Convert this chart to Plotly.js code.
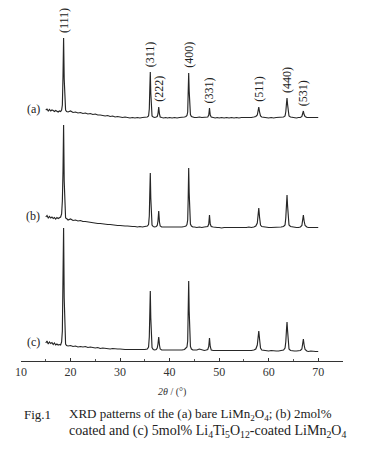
<!DOCTYPE html>
<html>
<head>
<meta charset="utf-8">
<script src="https://cdn.plot.ly/plotly-3.0.1.min.js"></script>
<style>html,body{margin:0;padding:0;background:#fff;}#chart{width:369px;height:463px;}</style>
</head>
<body>
<div id="chart"></div>
<script>
// 2θ positions (degrees)
const twoTheta = [
15.0,15.25,15.5,15.75,16.0,16.25,16.5,16.75,17.0,17.25,17.5,17.75,18.0,
18.2,18.35,18.48,18.6,18.72,18.85,19.0,19.2,
19.5,20,20.5,21,21.5,22,22.5,23,23.5,24,24.5,25,25.5,26,26.5,27,27.5,28,28.5,29,29.5,30,30.5,31,31.5,32,32.5,33,33.5,34,34.5,35,35.5,
35.75,35.9,36.0,36.1,36.2,36.3,36.45,
36.7,37.0,37.3,37.5,
37.65,37.8,37.95,38.1,
38.4,38.8,39.2,39.6,40,40.5,41,41.5,42,42.5,43,43.3,43.5,
43.65,43.75,43.85,43.95,44.05,44.2,44.4,
44.7,45,45.5,46,46.5,47,47.4,47.7,
47.9,48.05,48.2,48.4,
48.8,49.2,49.6,50,50.5,51,51.5,52,52.5,53,53.5,54,54.5,55,55.5,56,56.5,57,57.4,
57.7,57.85,58.0,58.15,58.35,58.6,
59,59.5,60,60.5,61,61.5,62,62.5,63,
63.3,63.45,63.6,63.7,63.8,63.95,64.1,64.4,
64.8,65.2,65.6,66,66.4,66.7,
66.85,67.0,67.15,67.35,
67.7,68,68.5,69,69.5,70
];

// (a) bare LiMn2O4 intensities (a.u.)
const intensityA = [
11,12,10,11.5,10,11,10.5,9.5,10.5,10,9,10,9.5,
11,16,45,83,42,17,11,9.5,
9,10,8.5,9,8,8.5,7.5,8,7,7.5,6.5,7,6,6,5.5,5,5.5,4.5,5,4,4.5,4,3.5,4,3.5,3,3.5,3,3.5,3,3.5,3.5,4,
5,12,32,49,28,10,5,
4,3.5,4,4.5,
7,14,7,4,
3.5,3,3.5,3,3.5,3,3.5,3,3.5,3.5,4,4.5,5.5,
9,24,48,30,13,6.5,4.5,
4,3.5,3.5,4,3.5,3.5,3.5,4,
6,13,6,4,
3.5,3,3.5,3,3.5,3,3.5,3,3.5,3,3.5,3,3.5,3.5,3,3.5,3.5,4,4.5,
6,10,14,9,5,4,
3.5,3.5,3,3.5,3,3.5,3.5,3.5,4,
5,9,18,23,17,8,5,4,
3.5,3.5,3,3.5,3.5,4.5,
6.5,10,6.5,4.5,
3.5,3.5,3,3.5,3,3.5
];

// (b) 2mol% coated
const intensityB = [
14,15.5,13,14.5,13,14,12.5,13.5,12,13.5,12.5,13,14,
17,30,60,106,50,20,13,12.5,
11,12,10.5,11,10,10.5,9.5,9.5,9,8.5,8.5,8,7.5,7.5,7,7,6.5,6.5,6,6,5.5,5.5,5,5,5,4.5,4.5,4.5,4,4.5,4,4.5,5,
6.5,15,38,58,33,12,6,
4.5,4,4.5,5.5,
10,20,9,5,
4,4,3.5,4,3.5,4,3.5,4,3.5,4,4.5,5,6.5,
11,32,63,38,15,7,5,
4,4,3.5,4,3.5,4,4,4.5,
7,16,7,4.5,
4,3.5,3.5,3.5,3,3.5,3.5,3,3.5,3.5,3,3.5,3.5,3.5,3.5,4,3.5,4,5,
8,15,23,14,6,4.5,
4,3.5,3.5,3.5,3.5,3.5,3.5,4,4.5,
6,13,28,36,26,11,6,4.5,
4,3.5,3.5,3.5,4,5.5,
10,16,10,5.5,
4,3.5,3.5,3.5,3.5,3.5
];

// (c) 5mol% Li4Ti5O12-coated
const intensityC = [
10,12,9,11,9.5,10.5,8.5,10,8,9,8,8.5,8,
11,22,60,125,55,18,9,7.5,
7,7.5,6.5,7,6,6.5,6,6.5,5.5,6,5.5,5,5.5,4.5,5,4.5,4.5,4,4.5,4,4,4,3.5,3.5,3.5,3.5,3,3.5,3,3,3,3.5,4,
6,16,40,62,35,12,5.5,
3.5,3,3.5,5,
9,16,8,4,
3,3,2.5,3,2.5,3,2.5,3,2.5,3,3.5,4.5,6,
12,36,72,42,16,6.5,4,
3,3,3,4,3,2.5,3,3.5,
6.5,15,6.5,3,
2.5,2.5,2,2.5,2,2.5,2,2.5,2,2.5,2,2,2.5,2,2.5,2,2.5,3,4,
8,15,22,14,5,3,
2.5,2,2,2.5,2,2,2,2.5,3,
5,11,24,31,23,9,4,2.5,
2,2,2,2,2.5,4,
8,14,8,3.5,
2,1.5,2,1.5,1.5,1.5
];

const sampleLabels = ['(a)', '(b)', '(c)'];
const peakHKL = ['(111)', '(311)', '(222)', '(400)', '(331)', '(511)', '(440)', '(531)'];
const peakPos = [18.6, 36.1, 37.8, 43.85, 48.05, 58.0, 63.7, 67.0];
const xTickVals = [10, 20, 30, 40, 50, 60, 70];
const xMinorVals = [15, 25, 35, 45, 55, 65, 75];

const series = [intensityA, intensityB, intensityC];
const stackOffset = [240, 130, 8];
const lineColor = '#262626';
const serif = "'Liberation Serif', serif";

series.forEach((s, i) => { if (s.length !== twoTheta.length) console.error('length mismatch', i, s.length, twoTheta.length); });

const traces = series.map((s, i) => ({
  type: 'scatter', mode: 'lines',
  x: twoTheta,
  y: s.map(v => v + stackOffset[i]),
  line: {color: lineColor, width: 1.15},
  hoverinfo: 'skip', showlegend: false
}));

const annotations = [];
// sample labels at the start of each pattern
series.forEach((s, i) => {
  annotations.push({
    x: twoTheta[0], y: s[0] + stackOffset[i], xref: 'x', yref: 'y',
    xanchor: 'right', yanchor: 'middle', xshift: -4, yshift: 1,
    text: sampleLabels[i], showarrow: false,
    font: {family: serif, size: 12, color: '#222'}
  });
});
// hkl labels above the peaks of pattern (a)
peakHKL.forEach((lab, k) => {
  let best = -Infinity;
  twoTheta.forEach((t, j) => { if (Math.abs(t - peakPos[k]) <= 0.3 && intensityA[j] > best) best = intensityA[j]; });
  annotations.push({
    x: peakPos[k], y: best + stackOffset[0], xref: 'x', yref: 'y',
    xanchor: 'center', yanchor: 'bottom', yshift: 3,
    text: lab, textangle: -90, showarrow: false,
    font: {family: serif, size: 12, color: '#222'}
  });
});
// axis title
annotations.push({
  x: 0.469, y: 0, xref: 'paper', yref: 'paper', xanchor: 'center', yanchor: 'middle', yshift: -31,
  text: '<i>2θ</i> / (°)', showarrow: false, font: {family: serif, size: 10, color: '#333'}
});
// caption
annotations.push({
  x: 0.003, y: 0, xref: 'paper', yref: 'paper', xanchor: 'left', yanchor: 'middle', yshift: -53,
  text: 'Fig.1', showarrow: false, font: {family: serif, size: 13, color: '#222'}
});
annotations.push({
  x: 0.1429, y: 0, xref: 'paper', yref: 'paper', xanchor: 'left', yanchor: 'middle', yshift: -53,
  text: 'XRD patterns of the (a) bare LiMn<sub>2</sub>O<sub>4</sub>; (b) 2mol%', showarrow: false,
  font: {family: serif, size: 13, color: '#222'}
});
annotations.push({
  x: 0.1429, y: 0, xref: 'paper', yref: 'paper', xanchor: 'left', yanchor: 'middle', yshift: -70,
  text: 'coated and (c) 5mol% Li<sub>4</sub>Ti<sub>5</sub>O<sub>12</sub>-coated LiMn<sub>2</sub>O<sub>4</sub>', showarrow: false,
  font: {family: serif, size: 14, color: '#222'}
});

const layout = {
  width: 369, height: 463,
  margin: {l: 21, r: 26, t: 0, b: 102},
  paper_bgcolor: '#fff', plot_bgcolor: '#fff',
  showlegend: false,
  xaxis: {
    range: [10, 75], tickvals: xTickVals, ticktext: xTickVals.map(String),
    showline: true, linecolor: '#333', linewidth: 1,
    ticks: 'inside', ticklen: 3, tickcolor: '#333',
    minor: {tickvals: xMinorVals, ticks: 'inside', ticklen: 2, tickcolor: '#555'},
    showgrid: false, zeroline: false,
    tickfont: {family: serif, size: 12, color: '#333'}
  },
  yaxis: {range: [0, 361], visible: false, showgrid: false, zeroline: false},
  annotations: annotations
};

Plotly.newPlot('chart', traces, layout, {staticPlot: true, displayModeBar: false});
</script>
</body>
</html>
